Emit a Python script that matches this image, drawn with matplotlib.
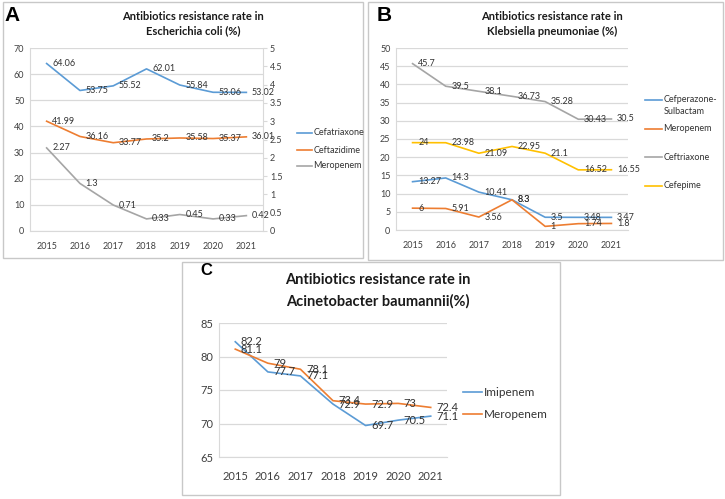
import numpy as np
import matplotlib
matplotlib.use('Agg')
import matplotlib.pyplot as plt
from matplotlib.patches import Rectangle
from matplotlib.lines import Line2D

plt.rcParams['font.family'] = ['Lato', 'DejaVu Sans']

W, H = 725, 499

years = ['2015', '2016', '2017', '2018', '2019', '2020', '2021']

# A: Escherichia coli
a_cefatriaxone = [64.06, 53.75, 55.52, 62.01, 55.84, 53.06, 53.02]
a_ceftazidime = [41.99, 36.16, 33.77, 35.2, 35.58, 35.37, 36.01]
a_meropenem = [2.27, 1.3, 0.71, 0.33, 0.45, 0.33, 0.42]

# B: Klebsiella pneumoniae
b_cefsul = [13.27, 14.3, 10.41, 8.3, 3.5, 3.48, 3.47]
b_meropenem = [6, 5.91, 3.56, 8.3, 1, 1.74, 1.8]
b_ceftriaxone = [45.7, 39.5, 38.1, 36.73, 35.28, 30.43, 30.5]
b_cefepime = [24, 23.98, 21.09, 22.95, 21.1, 16.52, 16.55]

# C: Acinetobacter baumannii
c_imipenem = [82.2, 77.7, 77.1, 72.9, 69.7, 70.5, 71.1]
c_meropenem = [81.1, 79, 78.1, 73.4, 72.9, 73, 72.4]

BLUE = '#5B9BD5'
ORANGE = '#ED7D31'
GRAY = '#A5A5A5'
YELLOW = '#FFC000'
GRID = '#D9D9D9'
TXT = '#404040'
LBL = '#333333'

fig = plt.figure(figsize=(W/100, H/100), dpi=100)


def rect(l, t, r, b):
    return [l/W, 1-b/H, (r-l)/W, (b-t)/H]


def fx(x):
    return x/W


def fy(y):
    return 1-y/H


def box(l, t, r, b):
    fig.add_artist(Rectangle((l/W, 1-b/H), (r-l)/W, (b-t)/H, transform=fig.transFigure,
                             fill=False, edgecolor='#C8C8C8', lw=1.0, zorder=-1))


def style_ax(ax, fs):
    for s in ['top', 'right']:
        ax.spines[s].set_visible(False)
    ax.spines['left'].set_color(GRID)
    ax.spines['bottom'].set_color(GRID)
    ax.yaxis.grid(True, color=GRID, lw=0.9)
    ax.set_axisbelow(True)
    ax.tick_params(axis='both', length=0, labelsize=fs, colors=TXT, pad=4)
    ax.tick_params(axis='x', pad=8)
    ax.set_facecolor('none')


def draw(ax, vals, color, fs, dy=0):
    x = np.arange(len(vals))
    ax.plot(x, vals, color=color, lw=1.2, clip_on=False)
    for xi, v in zip(x, vals):
        ax.annotate(f'{v:g}', (xi, v), xytext=(4, dy), textcoords='offset points',
                    ha='left', va='center', fontsize=fs, color=LBL, annotation_clip=False)


def legend(items, x0, fs, lw=1.2, llen=15):
    for y, label, color in items:
        fig.add_artist(Line2D([fx(x0), fx(x0+llen)], [fy(y), fy(y)], color=color, lw=lw,
                              transform=fig.transFigure))
        fig.text(fx(x0+llen+1.5), fy(y), label, fontsize=fs, color=LBL, va='center', ha='left')


# panel boxes
box(3, 2, 363, 258)
box(368, 2, 723, 260)
box(182, 262, 560, 495)

# ---- A ----
axA = fig.add_axes(rect(30, 48, 263, 231))
style_ax(axA, 6.5)
axA.set_xlim(-0.5, 6.5)
axA.set_ylim(0, 70)
axA.set_yticks(np.arange(0, 71, 10))
axA.set_xticks(range(7))
axA.set_xticklabels(years)
axA2 = axA.twinx()
axA2.set_ylim(0, 5)
axA2.set_yticks(np.arange(0, 5.01, 0.5))
axA2.set_yticklabels([f'{t:g}' for t in np.arange(0, 5.01, 0.5)])
for s in ['top', 'left', 'bottom']:
    axA2.spines[s].set_visible(False)
axA2.spines['right'].set_color(GRID)
axA2.tick_params(axis='y', length=3, color=GRID, labelsize=6.5, colors=TXT, pad=2)
draw(axA, a_cefatriaxone, BLUE, 6.5)
draw(axA, a_ceftazidime, ORANGE, 6.5)
draw(axA2, a_meropenem, GRAY, 6.5)
fig.text(fx(193), fy(16), 'Antibiotics resistance rate in', fontsize=8, fontweight='bold',
         ha='center', va='center', color='#1a1a1a')
fig.text(fx(193), fy(31), 'Escherichia coli (%)', fontsize=8, fontweight='bold',
         ha='center', va='center', color='#1a1a1a')
fig.text(fx(4), fy(15.5), 'A', fontsize=15, fontweight='bold', family='Liberation Sans',
         ha='left', va='center')
legend([(133, 'Cefatriaxone', BLUE), (150, 'Ceftazidime', ORANGE), (166, 'Meropenem', GRAY)],
       297, 6.5)

# ---- B ----
axB = fig.add_axes(rect(396, 48, 628, 230))
style_ax(axB, 6.5)
axB.set_xlim(-0.5, 6.5)
axB.set_ylim(0, 50)
axB.set_yticks(np.arange(0, 51, 5))
axB.set_xticks(range(7))
axB.set_xticklabels(years)
draw(axB, b_cefsul, BLUE, 6.5)
draw(axB, b_meropenem, ORANGE, 6.5)
draw(axB, b_ceftriaxone, GRAY, 6.5)
draw(axB, b_cefepime, YELLOW, 6.5)
fig.text(fx(552), fy(16), 'Antibiotics resistance rate in', fontsize=8, fontweight='bold',
         ha='center', va='center', color='#1a1a1a')
fig.text(fx(552), fy(31), 'Klebsiella pneumoniae (%)', fontsize=8, fontweight='bold',
         ha='center', va='center', color='#1a1a1a')
fig.text(fx(377), fy(15.5), 'B', fontsize=15, fontweight='bold', family='Liberation Sans',
         ha='left', va='center')
legend([(100, 'Cefperazone-', BLUE), (129, 'Meropenem', ORANGE), (157, 'Ceftriaxone', GRAY),
        (186, 'Cefepime', YELLOW)], 645, 6.5, llen=17)
fig.text(fx(663.5), fy(112), 'Sulbactam', fontsize=6.5, color=LBL, va='center', ha='left')

# ---- C ----
axC = fig.add_axes(rect(219, 323, 447, 457))
style_ax(axC, 8)
axC.tick_params(axis='x', pad=10)
axC.set_xlim(-0.5, 6.5)
axC.set_ylim(65, 85)
axC.set_yticks(np.arange(65, 86, 5))
axC.set_xticks(range(7))
axC.set_xticklabels(years)
draw(axC, c_imipenem, BLUE, 8)
draw(axC, c_meropenem, ORANGE, 8)
fig.text(fx(378), fy(280), 'Antibiotics resistance rate in', fontsize=10.5, fontweight='bold',
         ha='center', va='center', color='#1a1a1a')
fig.text(fx(378), fy(301), 'Acinetobacter baumannii(%)', fontsize=10.5, fontweight='bold',
         ha='center', va='center', color='#1a1a1a')
fig.text(fx(200), fy(270.5), 'C', fontsize=12, fontweight='bold', family='Liberation Sans',
         ha='left', va='center')
legend([(392, 'Imipenem', BLUE), (414, 'Meropenem', ORANGE)], 463, 8.5, llen=19)

fig.savefig('out.png', dpi=100)
